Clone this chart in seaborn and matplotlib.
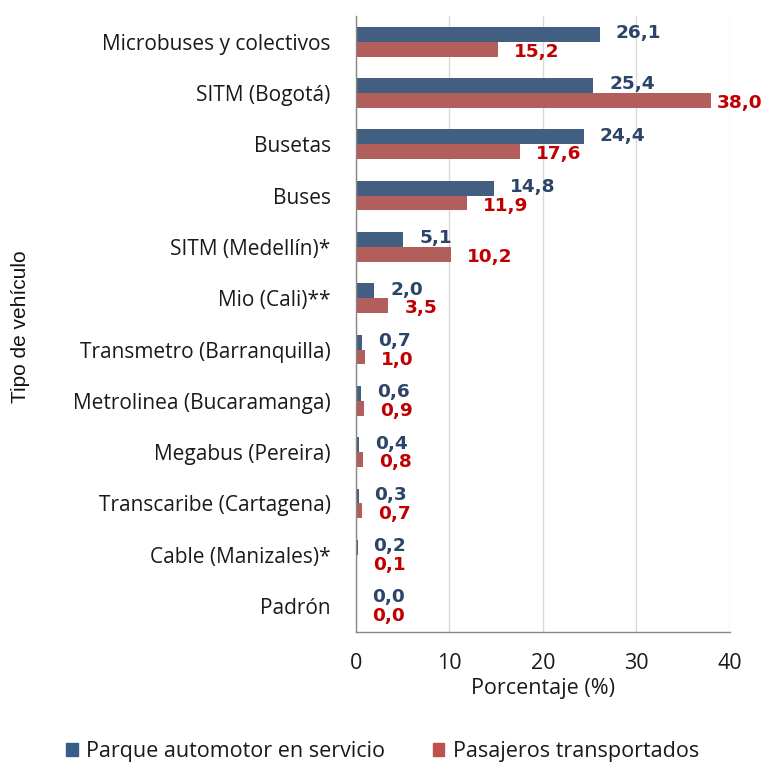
import numpy as np
import pandas as pd
import matplotlib
matplotlib.use("Agg")
import matplotlib.pyplot as plt
import seaborn as sns
from matplotlib.ticker import FixedLocator

categories = ["Microbuses y colectivos", "SITM (Bogotá)", "Busetas", "Buses",
              "SITM (Medellín)*", "Mio (Cali)**", "Transmetro (Barranquilla)",
              "Metrolinea (Bucaramanga)", "Megabus (Pereira)",
              "Transcaribe (Cartagena)", "Cable (Manizales)*", "Padrón"]
parque = [26.1, 25.4, 24.4, 14.8, 5.1, 2.0, 0.7, 0.6, 0.4, 0.3, 0.2, 0.0]
pasajeros = [15.2, 38.0, 17.6, 11.9, 10.2, 3.5, 1.0, 0.9, 0.8, 0.7, 0.1, 0.0]
series_names = ["Parque automotor en servicio", "Pasajeros transportados"]
xticks = [0, 10, 20, 30, 40]

sns.set_style("white")
plt.rcParams['font.family'] = ['Open Sans', 'DejaVu Sans']

df = pd.DataFrame({
    "cat": categories * 2,
    "val": parque + pasajeros,
    "serie": [series_names[0]] * len(categories) + [series_names[1]] * len(categories),
})

bar_colors = ["#385D8A", "#C0504D"]
label_colors = ["#2B4468", "#C00000"]
txt = "#1A1A1A"

fig = plt.figure(figsize=(7.65, 7.62), dpi=100)
ax = fig.add_axes([0.465, 0.171, 0.489, 0.808])
sns.barplot(data=df, y="cat", x="val", hue="serie", order=categories,
            hue_order=series_names, palette=bar_colors, orient="h",
            width=0.58, ax=ax, errorbar=None, legend=False,
            edgecolor="none")

ax.set_xlim(0, 40)
ax.set_ylim(len(categories) - 0.5, -0.5)
ax.xaxis.set_major_locator(FixedLocator(xticks))
ax.set_xticklabels([str(t) for t in xticks], fontsize=15.5, color=txt)
ax.grid(axis="x", color="#D9D9D9", linewidth=1)
ax.set_axisbelow(True)

ax.set_yticks(range(len(categories)))
ax.set_yticklabels(categories, fontsize=15, color=txt)
ax.tick_params(axis="y", which="major", length=0, pad=18)
ax.yaxis.set_minor_locator(FixedLocator(np.arange(-0.5, len(categories) + 0.5, 1)))
ax.tick_params(axis="y", which="minor", length=7, color="#888888", width=1)
ax.tick_params(axis="x", which="major", length=7, color="#888888", width=1, pad=8)

for s in ["top", "right"]:
    ax.spines[s].set_visible(False)
for s in ["left", "bottom"]:
    ax.spines[s].set_color("#888888")
    ax.spines[s].set_linewidth(1)

ax.set_xlabel("Porcentaje (%)", fontsize=15.5, color=txt, labelpad=3)
ax.set_ylabel("")
fig.text(0.027, 0.571, "Tipo de vehículo", rotation=90, ha="center", va="center",
         fontsize=15, family="Liberation Sans", color="#111111")

for i, cont in enumerate(ax.containers):
    vals = parque if i == 0 else pasajeros
    for rect, v in zip(cont.patches, vals):
        x = rect.get_width()
        yc = rect.get_y() + rect.get_height() / 2
        pad = 11.5 if x + 7 < 40 else 4
        dy = 0.8 if i == 0 else -2
        ax.annotate(f"{v:.1f}".replace(".", ","), xy=(x, yc),
                    xytext=(pad, dy), textcoords="offset points",
                    ha="left", va="center", fontsize=13.3, fontweight="bold",
                    family="DejaVu Sans", color=label_colors[i],
                    annotation_clip=False)

handles = [plt.Rectangle((0, 0), 1, 1, color=c) for c in bar_colors]
fig.legend(handles, series_names, loc="center", bbox_to_anchor=(0.5, 0.014),
           ncol=2, frameon=False, fontsize=15.5, handlelength=0.55,
           handleheight=0.55, handletextpad=0.4, columnspacing=2.2,
           labelcolor=txt)

fig.savefig("out.png", dpi=100)
